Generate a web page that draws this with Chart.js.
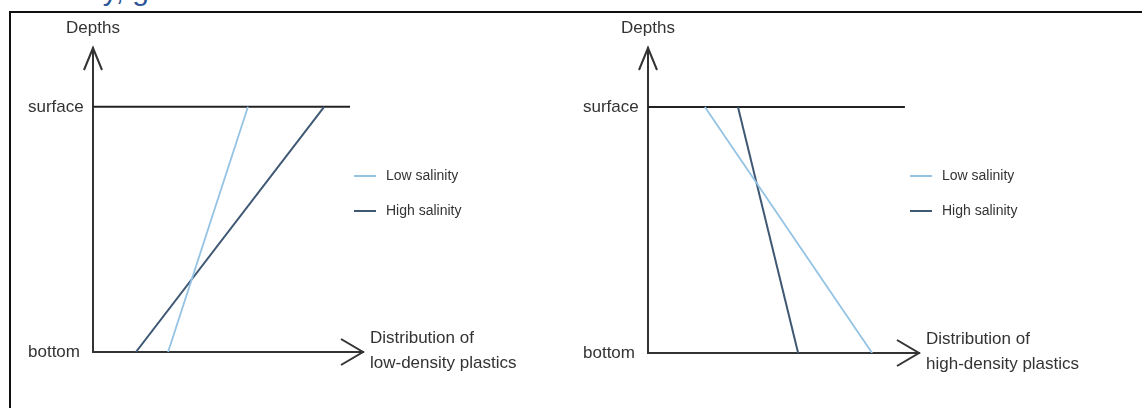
<!DOCTYPE html>
<html>
<head>
<meta charset="utf-8">
<script src="https://cdn.jsdelivr.net/npm/chart.js@4.4.0/dist/chart.umd.min.js"></script>
<style>
  html, body { margin: 0; padding: 0; background: #fff; width: 1142px; height: 408px; overflow: hidden; }
  #frame { position: absolute; left: 9px; top: 11px; width: 1200px; height: 500px; border-left: 2px solid #111; border-top: 2px solid #111; }
  #caption { position: absolute; left: 26px; top: -25px; font: 30px 'Liberation Sans', Arial, sans-serif; line-height: 30px; color: #2f5597; white-space: nowrap; }
  .box { position: absolute; top: 0; }
</style>
</head>
<body>
<div id="caption">salinity, gradient</div>
<div id="frame"></div>
<div class="box" style="left:0"><canvas id="leftChart" width="560" height="408"></canvas></div>
<div class="box" style="left:560px"><canvas id="rightChart" width="582" height="408"></canvas></div>
<script>
// depth levels: 0 = bottom, 1 = surface
var depthLevels = [0, 1];
var depthLabels = ['bottom', 'surface'];
var seriesNames = ['Low salinity', 'High salinity'];

// distribution (x) at [bottom, surface]
var lowDensityLowSal = [2.78, 5.74];
var lowDensityHighSal = [1.59, 8.56];
var highDensityLowSal = [8.27, 2.10];
var highDensityHighSal = [5.54, 3.32];

// surface line extent along x
var surfaceExtentLeft = [0, 9.52];
var surfaceExtentRight = [0, 9.48];

var lightBlue = '#94c3e4';
var darkBlue = '#3f5874';
var ink = '#333';
var font = "'Liberation Sans', Arial, sans-serif";

function pts(xs) {
  return depthLevels.map(function (d, i) { return {x: xs[i], y: d}; });
}

var sketchPlugin = {
  id: 'sketch',
  afterDraw: function (chart, args, opts) {
    var c = chart.ctx, a = chart.chartArea;
    c.save();
    c.strokeStyle = ink;
    c.lineWidth = 2;
    // arrowheads
    c.beginPath();
    c.moveTo(a.left - 9, a.top + 22); c.lineTo(a.left, a.top); c.lineTo(a.left + 9, a.top + 22);
    c.moveTo(a.right - 22, a.bottom - 13); c.lineTo(a.right, a.bottom); c.lineTo(a.right - 22, a.bottom + 13);
    c.stroke();
    c.fillStyle = ink;
    c.textBaseline = 'middle';
    // y title
    c.font = '17px ' + font;
    c.textAlign = 'center';
    c.fillText(opts.yTitle, a.left, a.top - 20);
    // x title
    c.textAlign = 'left';
    c.fillText(opts.xTitle[0], a.right + 7, a.bottom - 14);
    c.fillText(opts.xTitle[1], a.right + 7, a.bottom + 11);
    // legend
    c.font = '14px ' + font;
    var y = opts.legendTop;
    chart.data.datasets.forEach(function (ds) {
      if (!ds.label) return;
      c.strokeStyle = ds.borderColor;
      c.lineWidth = 2;
      c.beginPath();
      c.moveTo(a.right - 9, y); c.lineTo(a.right + 13, y);
      c.stroke();
      c.fillStyle = ink;
      c.fillText(ds.label, a.right + 23, y);
      y += 35;
    });
    c.restore();
  }
};

function makeChart(id, low, high, surface, xTitle, pad, yMax) {
  return new Chart(document.getElementById(id), {
    type: 'scatter',
    data: {
      datasets: [{
        data: pts(low),
        label: seriesNames[0],
        borderColor: lightBlue,
        borderWidth: 1.8,
        showLine: true,
        pointRadius: 0
      }, {
        data: pts(high),
        label: seriesNames[1],
        borderColor: darkBlue,
        borderWidth: 2,
        showLine: true,
        pointRadius: 0
      }, {
        data: surface.map(function (x) { return {x: x, y: 1}; }),
        label: '',
        borderColor: '#222',
        borderWidth: 2,
        showLine: true,
        pointRadius: 0
      }]
    },
    options: {
      responsive: false,
      animation: false,
      devicePixelRatio: 1,
      layout: { padding: pad },
      plugins: {
        legend: { display: false },
        tooltip: { enabled: false },
        sketch: { yTitle: 'Depths', xTitle: xTitle, legendTop: 176 }
      },
      scales: {
        x: {
          type: 'linear', min: 0, max: 10,
          grid: { display: false },
          border: { display: true, color: ink, width: 2 },
          ticks: { display: false },
          afterFit: function (s) { s.height = 0; }
        },
        y: {
          type: 'linear', min: 0, max: yMax,
          grid: { display: false },
          border: { display: true, color: ink, width: 2 },
          afterBuildTicks: function (s) { s.ticks = depthLevels.map(function (v) { return {value: v}; }); },
          ticks: {
            crossAlign: 'far',
            padding: 8,
            color: ink,
            font: { family: font, size: 17 },
            callback: function (v) { return depthLabels[depthLevels.indexOf(v)]; }
          },
          afterFit: function (s) { s.width = 65; }
        }
      }
    },
    plugins: [sketchPlugin]
  });
}

makeChart('leftChart', lowDensityLowSal, lowDensityHighSal, surfaceExtentLeft,
  ['Distribution of', 'low-density plastics'], {left: 28, top: 48, right: 197, bottom: 56}, 1.24);
makeChart('rightChart', highDensityLowSal, highDensityHighSal, surfaceExtentRight,
  ['Distribution of', 'high-density plastics'], {left: 23, top: 48, right: 223, bottom: 55}, 1.24);
</script>
</body>
</html>
